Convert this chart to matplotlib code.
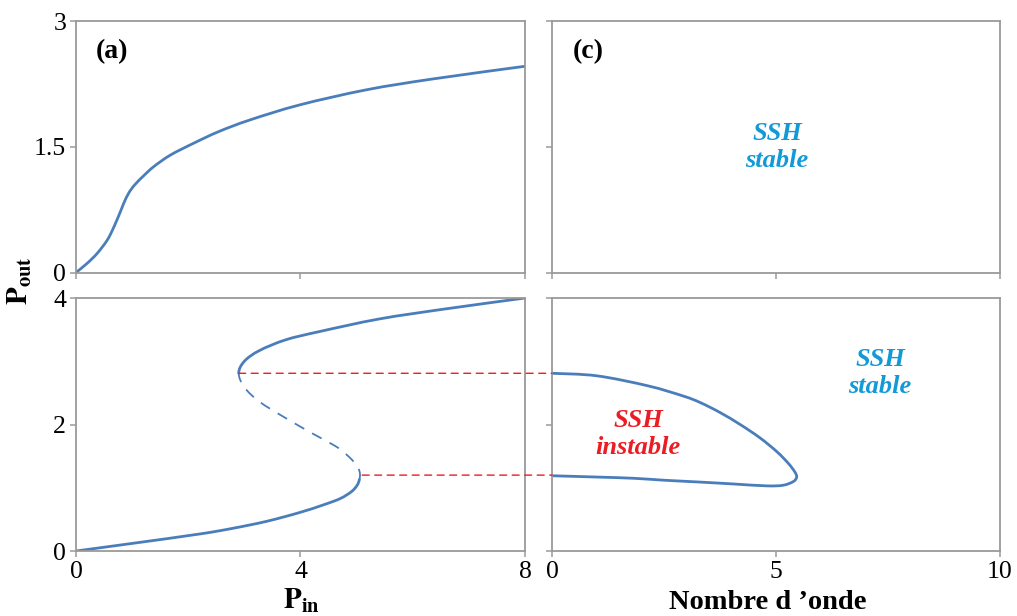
import matplotlib.pyplot as plt
from matplotlib.patches import ConnectionPatch, PathPatch
from matplotlib.path import Path
from matplotlib.ticker import FormatStrFormatter

plt.rcParams['font.family'] = ['Liberation Serif', 'DejaVu Serif']
plt.rcParams['mathtext.fontset'] = 'stix'

BLEU = '#4a7ebb'
ROUGE = '#ec1c24'
CYAN = '#119ad6'
GRIS = '#9a9a9a'

# (a) : P_out en fonction de P_in (regime monostable)
pin_a = [0, 0.20, 0.38, 0.56, 0.68, 0.80, 0.88, 0.97, 1.08, 1.20, 1.38,
         1.68, 2.09, 2.54, 3.10, 3.99, 5.18, 6.37, 8.0]
pout_a = [0, 0.11, 0.23, 0.39, 0.55, 0.74, 0.87, 0.98, 1.07, 1.15, 1.26,
          1.40, 1.54, 1.68, 1.82, 2.00, 2.18, 2.31, 2.46]

# (b) : courbe en S, P_in lu en fonction de P_out, branche par branche
pout_bas = [0, 0.12, 0.27, 0.36, 0.47, 0.61, 0.73, 0.83, 0.94, 1.04, 1.13]
pin_bas = [0, 1.0, 2.21, 2.80, 3.40, 3.99, 4.41, 4.71, 4.91, 5.01, 5.05]
pout_inst = [1.13, 1.22, 1.31, 1.42, 1.54, 1.66, 1.85, 2.10, 2.36, 2.59,
             2.81]
pin_inst = [5.05, 5.06, 5.03, 4.94, 4.80, 4.62, 4.23, 3.74, 3.27, 3.00,
            2.90]
pout_haut = [2.81, 3.00, 3.17, 3.34, 3.47, 3.67, 3.83, 4.00]
pin_haut = [2.90, 3.00, 3.27, 3.74, 4.34, 5.41, 6.60, 8.00]

# (d) : frontiere de stabilite SSH dans le plan (nombre d'onde, P_out)
k_ssh = [0, 1.0, 2.15, 2.93, 3.30, 3.75, 4.20, 4.64, 5.02, 5.27, 5.42, 5.46,
         5.39, 5.16, 4.79, 4.05, 3.30, 2.48, 1.82, 0.97, 0]
pout_ssh = [2.81, 2.77, 2.61, 2.45, 2.35, 2.19, 2.00, 1.79, 1.57, 1.39, 1.25,
            1.17, 1.10, 1.04, 1.03, 1.06, 1.09, 1.12, 1.15, 1.17, 1.19]

# seuils de bistabilite (points de retournement)
seuil_pin = [2.90, 5.10]
seuil_pout = [2.81, 1.20]


def courbe_lissee(xs, ys, i0=0, i1=None):
    # ligne lissee facon Excel (Catmull-Rom -> Bezier) entre les points i0..i1
    pts = list(zip(xs, ys))
    n = len(pts)
    if i1 is None:
        i1 = n - 1
    verts = [pts[i0]]
    codes = [Path.MOVETO]
    for i in range(i0, i1):
        p0 = pts[max(i - 1, 0)]
        p1 = pts[i]
        p2 = pts[i + 1]
        p3 = pts[min(i + 2, n - 1)]
        c1 = (p1[0] + (p2[0] - p0[0]) / 6, p1[1] + (p2[1] - p0[1]) / 6)
        c2 = (p2[0] - (p3[0] - p1[0]) / 6, p2[1] - (p3[1] - p1[1]) / 6)
        verts += [c1, c2, p2]
        codes += [Path.CURVE4] * 3
    return Path(verts, codes)


def style_axes(ax, xticks, yticks, xlab=True, ylab=True):
    ax.set_xlim(xticks[0], xticks[-1])
    ax.set_ylim(yticks[0], yticks[-1])
    ax.set_xticks(xticks)
    ax.set_yticks(yticks)
    ax.yaxis.set_major_formatter(FormatStrFormatter('%g'))
    for sp in ax.spines.values():
        sp.set_color(GRIS)
        sp.set_linewidth(1.3)
    ax.tick_params(direction='out', length=4, width=1.1, color=GRIS,
                   labelsize=18.5, pad=3, labelbottom=xlab, labelleft=ylab)


def main():
    fig = plt.figure(figsize=(10.17, 6.16), dpi=100)
    ax_a = fig.add_axes([0.0747, 0.5576, 0.4415, 0.4083])
    ax_c = fig.add_axes([0.5428, 0.5576, 0.4405, 0.4083])
    ax_b = fig.add_axes([0.0747, 0.1055, 0.4415, 0.4107])
    ax_d = fig.add_axes([0.5428, 0.1055, 0.4405, 0.4107])

    style_axes(ax_a, [0, 4, 8], [0, 1.5, 3], xlab=False)
    style_axes(ax_c, [0, 5, 10], [0, 1.5, 3], xlab=False, ylab=False)
    style_axes(ax_b, [0, 4, 8], [0, 2, 4])
    style_axes(ax_d, [0, 5, 10], [0, 2, 4], ylab=False)

    plein = dict(fill=False, edgecolor=BLEU, lw=2, capstyle='round')
    ax_a.add_patch(PathPatch(courbe_lissee(pin_a, pout_a), **plein))

    # courbe en S complete, puis decoupee en trois morceaux
    pin_s = pin_bas + pin_inst[1:] + pin_haut[1:]
    pout_s = pout_bas + pout_inst[1:] + pout_haut[1:]
    j1 = len(pin_bas) - 1
    j2 = j1 + len(pin_inst) - 1
    ax_b.add_patch(PathPatch(courbe_lissee(pin_s, pout_s, 0, j1), **plein))
    ax_b.add_patch(PathPatch(courbe_lissee(pin_s, pout_s, j1, j2), fill=False,
                             edgecolor=BLEU, lw=1.3, ls=(0, (6, 5))))
    ax_b.add_patch(PathPatch(courbe_lissee(pin_s, pout_s, j2), **plein))

    ax_d.add_patch(PathPatch(courbe_lissee(k_ssh, pout_ssh), **plein))

    for x0, y0 in zip(seuil_pin, seuil_pout):
        con = ConnectionPatch(xyA=(x0, y0), coordsA=ax_b.transData,
                              xyB=(0, y0), coordsB=ax_d.transData,
                              color=ROUGE, lw=1, ls=(0, (5, 4)))
        fig.add_artist(con)

    ax_a.text(0.08, 0.88, '(a)', transform=ax_a.transAxes, fontsize=20,
              fontweight='bold', ha='center', va='center')
    ax_c.text(0.08, 0.88, '(c)', transform=ax_c.transAxes, fontsize=20,
              fontweight='bold', ha='center', va='center')

    txt = dict(fontsize=19, fontweight='bold', fontstyle='italic',
               ha='center', va='center', linespacing=1.2)
    ax_c.text(0.502, 0.50, 'SSH\nstable', color=CYAN,
              transform=ax_c.transAxes, **txt)
    ax_d.text(0.732, 0.704, 'SSH\nstable', color=CYAN,
              transform=ax_d.transAxes, **txt)
    ax_d.text(0.192, 0.462, 'SSH\ninstable', color=ROUGE,
              transform=ax_d.transAxes, **txt)

    fig.text(0.0197, 0.545, r'$\mathbf{P_{out}}$', rotation=90, fontsize=21,
             ha='center', va='center')
    fig.text(0.296, 0.012, r'$\mathbf{P_{in}}$', fontsize=21,
             ha='center', va='baseline')
    fig.text(0.755, 0.012, "Nombre d \u2019onde", fontsize=20.5,
             fontweight='bold', ha='center', va='baseline')

    fig.savefig('out.png', dpi=100)


main()
